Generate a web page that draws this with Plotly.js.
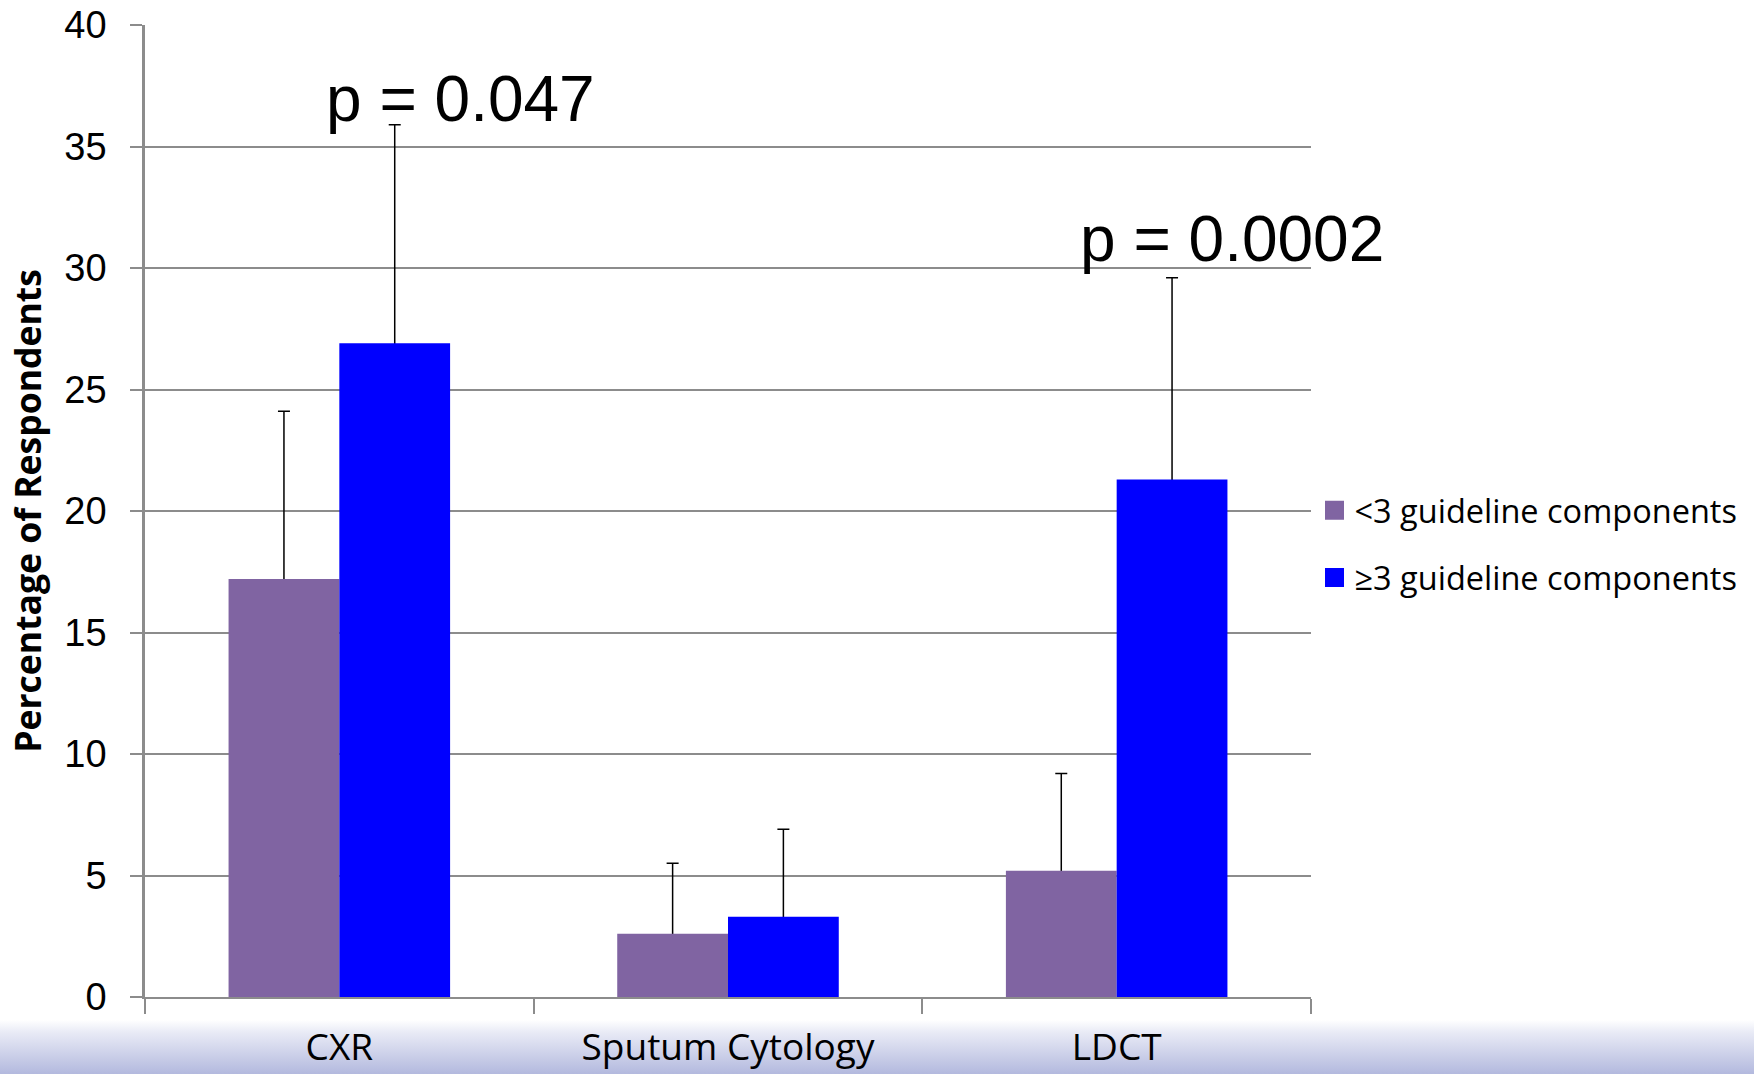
<!DOCTYPE html>
<html>
<head>
<meta charset="utf-8">
<script src="https://cdn.plot.ly/plotly-3.0.1.min.js"></script>
<style>
  html, body { margin: 0; padding: 0; width: 1754px; height: 1074px; overflow: hidden; }
  body {
    background: #ffffff linear-gradient(to bottom, #ffffff 0px, #ffffff 1020px, #e9ebf6 1032px, #b3b9de 1074px);
  }
  #chart { width: 1754px; height: 1074px; }
</style>
</head>
<body>
<div id="chart"></div>
<script>
const categories = ["CXR", "Sputum Cytology", "LDCT"];
const seriesNames = ["<3 guideline components", "\u22653 guideline components"];
const lowValues = [17.2, 2.6, 5.2];
const lowErrors = [6.9, 2.9, 4.0];
const highValues = [26.9, 3.3, 21.3];
const highErrors = [9.0, 3.6, 8.3];
const yTicks = [0, 5, 10, 15, 20, 25, 30, 35, 40];
const pLabels = ["p = 0.047", "p = 0.0002"];

const colors = ["#8064a2", "#0000ff"];

// Helper trace: invisible bars carrying the error bars, drawn first so the
// real bars (drawn afterwards in the same slot) hide the lower part.
function errorTrace(vals, errs, group) {
  return {
    type: "bar",
    x: categories,
    y: vals,
    offsetgroup: group,
    marker: { color: "rgba(0,0,0,0)", line: { width: 0 } },
    error_y: {
      type: "data",
      symmetric: false,
      array: errs,
      arrayminus: vals,
      color: "#000000",
      thickness: 1.5,
      width: 6
    },
    showlegend: false,
    hoverinfo: "skip"
  };
}

function barTrace(name, vals, color, group) {
  return {
    type: "bar",
    name: name,
    x: categories,
    y: vals,
    offsetgroup: group,
    marker: { color: color, line: { width: 0 } },
    showlegend: false,
    hoverinfo: "x+y"
  };
}

function legendTrace(name, color, group) {
  return {
    type: "scatter",
    mode: "markers",
    name: name,
    x: [null],
    y: [null],
    legendgroup: group,
    marker: { symbol: "square", size: 16, color: color, line: { color: color, width: 3 } },
    showlegend: true,
    hoverinfo: "skip"
  };
}

const data = [
  errorTrace(lowValues, lowErrors, "low"),
  errorTrace(highValues, highErrors, "high"),
  barTrace(seriesNames[0], lowValues, colors[0], "low"),
  barTrace(seriesNames[1], highValues, colors[1], "high"),
  legendTrace(seriesNames[0], colors[0], "g1"),
  legendTrace(seriesNames[1], colors[1], "g2")
];

const layout = {
  width: 1754,
  height: 1074,
  margin: { l: 145, r: 443, t: 25, b: 77, pad: 0 },
  paper_bgcolor: "rgba(0,0,0,0)",
  plot_bgcolor: "rgba(0,0,0,0)",
  barmode: "group",
  bargap: 0.43,
  bargroupgap: 0,
  showlegend: true,
  legend: {
    x: 1.003,
    xanchor: "left",
    y: 0.466,
    yanchor: "middle",
    font: { family: "Open Sans, sans-serif", size: 32.5, color: "#000000" },
    tracegroupgap: 22,
    bgcolor: "rgba(0,0,0,0)",
    itemclick: false,
    itemdoubleclick: false
  },
  xaxis: {
    type: "category",
    showline: true,
    linecolor: "#8c8c8c",
    linewidth: 2,
    ticks: "outside",
    tickson: "boundaries",
    ticklen: 15,
    tickcolor: "#8c8c8c",
    tickwidth: 1.5,
    showgrid: false,
    ticklabelstandoff: 17,
    tickfont: { family: "Open Sans, sans-serif", size: 37, color: "#000000" },
    fixedrange: true
  },
  yaxis: {
    range: [0, 40],
    tickvals: yTicks,
    ticktext: yTicks.map(String),
    showline: true,
    linecolor: "#8c8c8c",
    linewidth: 2.5,
    ticks: "outside",
    ticklen: 12,
    tickcolor: "#8c8c8c",
    tickwidth: 1.5,
    showgrid: true,
    gridcolor: "#8c8c8c",
    gridwidth: 1.5,
    zeroline: false,
    ticklabelstandoff: 16,
    tickfont: { family: "Liberation Sans, Arial, sans-serif", size: 38, color: "#000000" },
    title: {
      text: "Percentage of Respondents",
      font: { family: "Open Sans, sans-serif", size: 35.5, color: "#000000", weight: "bold" },
      standoff: 12
    },
    fixedrange: true
  },
  annotations: [
    {
      text: pLabels[0],
      xref: "paper", yref: "y",
      x: 0.271, y: 36.94,
      xanchor: "center", yanchor: "middle",
      showarrow: false,
      font: { family: "Liberation Sans, Arial, sans-serif", size: 64, color: "#000000" }
    },
    {
      text: pLabels[1],
      xref: "paper", yref: "y",
      x: 0.932, y: 31.18,
      xanchor: "center", yanchor: "middle",
      showarrow: false,
      font: { family: "Liberation Sans, Arial, sans-serif", size: 64, color: "#000000" }
    }
  ]
};

Plotly.newPlot("chart", data, layout, { displayModeBar: false });
</script>
</body>
</html>
